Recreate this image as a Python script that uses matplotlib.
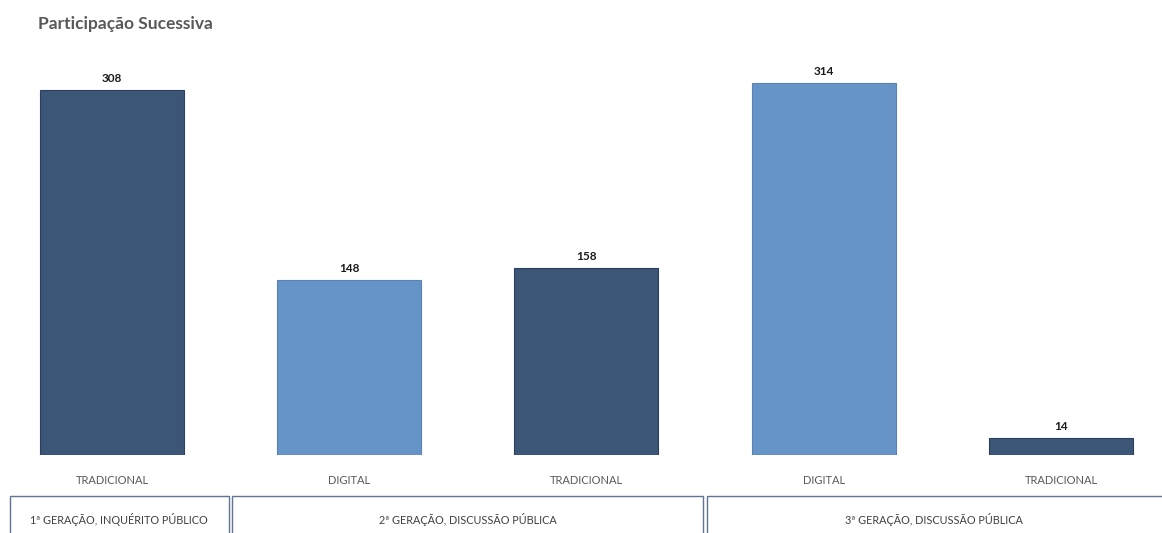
import matplotlib.pyplot as plt
from matplotlib.patches import Rectangle
import matplotlib.transforms as mtransforms

plt.rcParams['font.family'] = ['Lato', 'DejaVu Sans']

# Participation counts per consultation channel
categories = ['TRADICIONAL', 'DIGITAL', 'TRADICIONAL', 'DIGITAL', 'TRADICIONAL']
values = [308, 148, 158, 314, 14]
# generation groups: label, first bar index, last bar index
groups = [
    ('1ª GERAÇÃO, INQUÉRITO PÚBLICO', 0, 0),
    ('2ª GERAÇÃO, DISCUSSÃO PÚBLICA', 1, 2),
    ('3ª GERAÇÃO, DISCUSSÃO PÚBLICA', 3, 4),
]

dark = '#3c5677'
light = '#6794c8'
colors = [light if c == 'DIGITAL' else dark for c in categories]
edges = ['#5a82b4' if c == 'DIGITAL' else '#2b405c' for c in categories]

fig = plt.figure(figsize=(11.62, 5.33), dpi=100)
ax = fig.add_axes([0, 78 / 533, 1, 415 / 533])

x = list(range(len(values)))
ax.bar(x, values, width=0.607, color=colors, edgecolor=edges, linewidth=0.8)
for xi, v in zip(x, values):
    ax.text(xi, v + 5, str(v), ha='center', va='bottom', fontsize=8.5,
            fontweight='bold', color='#1a1a1a')

xmin, xmax = -0.472, 4.426
ax.set_xlim(xmin, xmax)
ax.set_ylim(0, 350)
ax.axis('off')

trans = mtransforms.blended_transform_factory(ax.transData, fig.transFigure)
for xi, c in zip(x, categories):
    ax.text(xi, 1 - 481 / 533, c, transform=trans, ha='center', va='center',
            fontsize=8, color='#595959')

# boxes under the category labels, one per generation
box_top = 1 - 496 / 533
box_h = 0.1
for label, i0, i1 in groups:
    left = max(i0 - 0.5, xmin + 0.034)
    right = min(i1 + 0.5, xmax + 0.2)
    ax.add_patch(Rectangle((left + 0.008, box_top - box_h), right - left - 0.016, box_h,
                           transform=trans, fill=False, edgecolor='#5f7593',
                           linewidth=1.0, clip_on=False))
    ax.text((left + min(right, xmax)) / 2, 1 - 520 / 533, label, transform=trans,
            ha='center', va='center', fontsize=7.8, color='#404040')

fig.text(38 / 1162, 1 - 24 / 533, 'Participação Sucessiva', ha='left', va='center',
         fontsize=12.5, fontweight='bold', color='#595959')

fig.savefig('out.png', dpi=100)
